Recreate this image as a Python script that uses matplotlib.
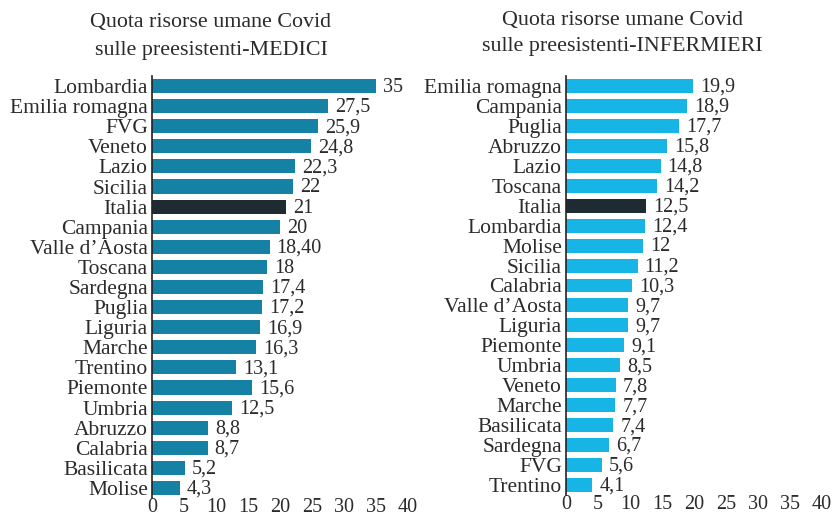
import matplotlib.pyplot as plt

plt.rcParams['font.family'] = ['Liberation Serif', 'DejaVu Serif']

# Medici
med_regioni = ["Lombardia", "Emilia romagna", "FVG", "Veneto", "Lazio", "Sicilia", "Italia",
               "Campania", "Valle d’Aosta", "Toscana", "Sardegna", "Puglia", "Liguria",
               "Marche", "Trentino", "Piemonte", "Umbria", "Abruzzo", "Calabria",
               "Basilicata", "Molise"]
med_valori = [35, 27.5, 25.9, 24.8, 22.3, 22, 21, 20, 18.4, 18, 17.4, 17.2, 16.9, 16.3,
              13.1, 15.6, 12.5, 8.8, 8.7, 5.2, 4.3]
med_etichette = ["35", "27,5", "25,9", "24,8", "22,3", "22", "21", "20", "18,40", "18",
                 "17,4", "17,2", "16,9", "16,3", "13,1", "15,6", "12,5", "8,8", "8,7",
                 "5,2", "4,3"]

# Infermieri
inf_regioni = ["Emilia romagna", "Campania", "Puglia", "Abruzzo", "Lazio", "Toscana", "Italia",
               "Lombardia", "Molise", "Sicilia", "Calabria", "Valle d’Aosta", "Liguria",
               "Piemonte", "Umbria", "Veneto", "Marche", "Basilicata", "Sardegna", "FVG",
               "Trentino"]
inf_valori = [19.9, 18.9, 17.7, 15.8, 14.8, 14.2, 12.5, 12.4, 12, 11.2, 10.3, 9.7, 9.7,
              9.1, 8.5, 7.8, 7.7, 7.4, 6.7, 5.6, 4.1]

ticks = [0, 5, 10, 15, 20, 25, 30, 35, 40]

TEXT = '#2b2b2b'
DARK = '#1f2b33'


def fmt(v):
    s = f"{v:g}"
    return s.replace('.', ',')


def pannello(ax, regioni, valori, etichette, colore):
    colori = [DARK if r == "Italia" else colore for r in regioni]
    y = list(range(len(regioni)))
    ax.barh(y, valori, height=0.7, color=colori)
    for yi, v, lab in zip(y, valori, etichette):
        ax.annotate(lab, (v, yi), xytext=(5, -1), textcoords='offset points',
                    va='center', ha='left', fontsize=14.5, color=TEXT)
    ax.set_yticks(y)
    ax.set_yticklabels(regioni, fontsize=15.5, color=TEXT)
    ax.set_ylim(len(regioni) - 0.5, -0.5)
    ax.set_xlim(0, 40)
    ax.set_xticks(ticks)
    ax.set_xticklabels([str(t) for t in ticks], fontsize=14.5, color=TEXT)
    for s in ['top', 'right', 'bottom']:
        ax.spines[s].set_visible(False)
    ax.spines['left'].set_color('#222222')
    ax.spines['left'].set_linewidth(1.2)
    ax.tick_params(axis='x', length=0, pad=0)
    ax.tick_params(axis='y', length=0, pad=3)


fig = plt.figure(figsize=(8.4, 5.16), dpi=100)
ax1 = fig.add_axes([152 / 840, 1 - 498 / 516, 256 / 840, 422 / 516])
ax2 = fig.add_axes([566 / 840, 1 - 495 / 516, 256 / 840, 419 / 516])

pannello(ax1, med_regioni, med_valori, med_etichette, '#1581a4')
pannello(ax2, inf_regioni, inf_valori, [fmt(v) for v in inf_valori], '#17b5e6')

fig.text(211 / 840, 1 - 23 / 516, "Quota risorse umane Covid", ha='center', va='center',
         fontsize=15.8, color=TEXT)
fig.text(211 / 840, 1 - 50 / 516, "sulle preesistenti-MEDICI", ha='center', va='center',
         fontsize=15.8, color=TEXT)
fig.text(622 / 840, 1 - 21 / 516, "Quota risorse umane Covid", ha='center', va='center',
         fontsize=15.8, color=TEXT)
fig.text(622 / 840, 1 - 47 / 516, "sulle preesistenti-INFERMIERI", ha='center', va='center',
         fontsize=15.8, color=TEXT)

fig.savefig('out.png', dpi=100)
